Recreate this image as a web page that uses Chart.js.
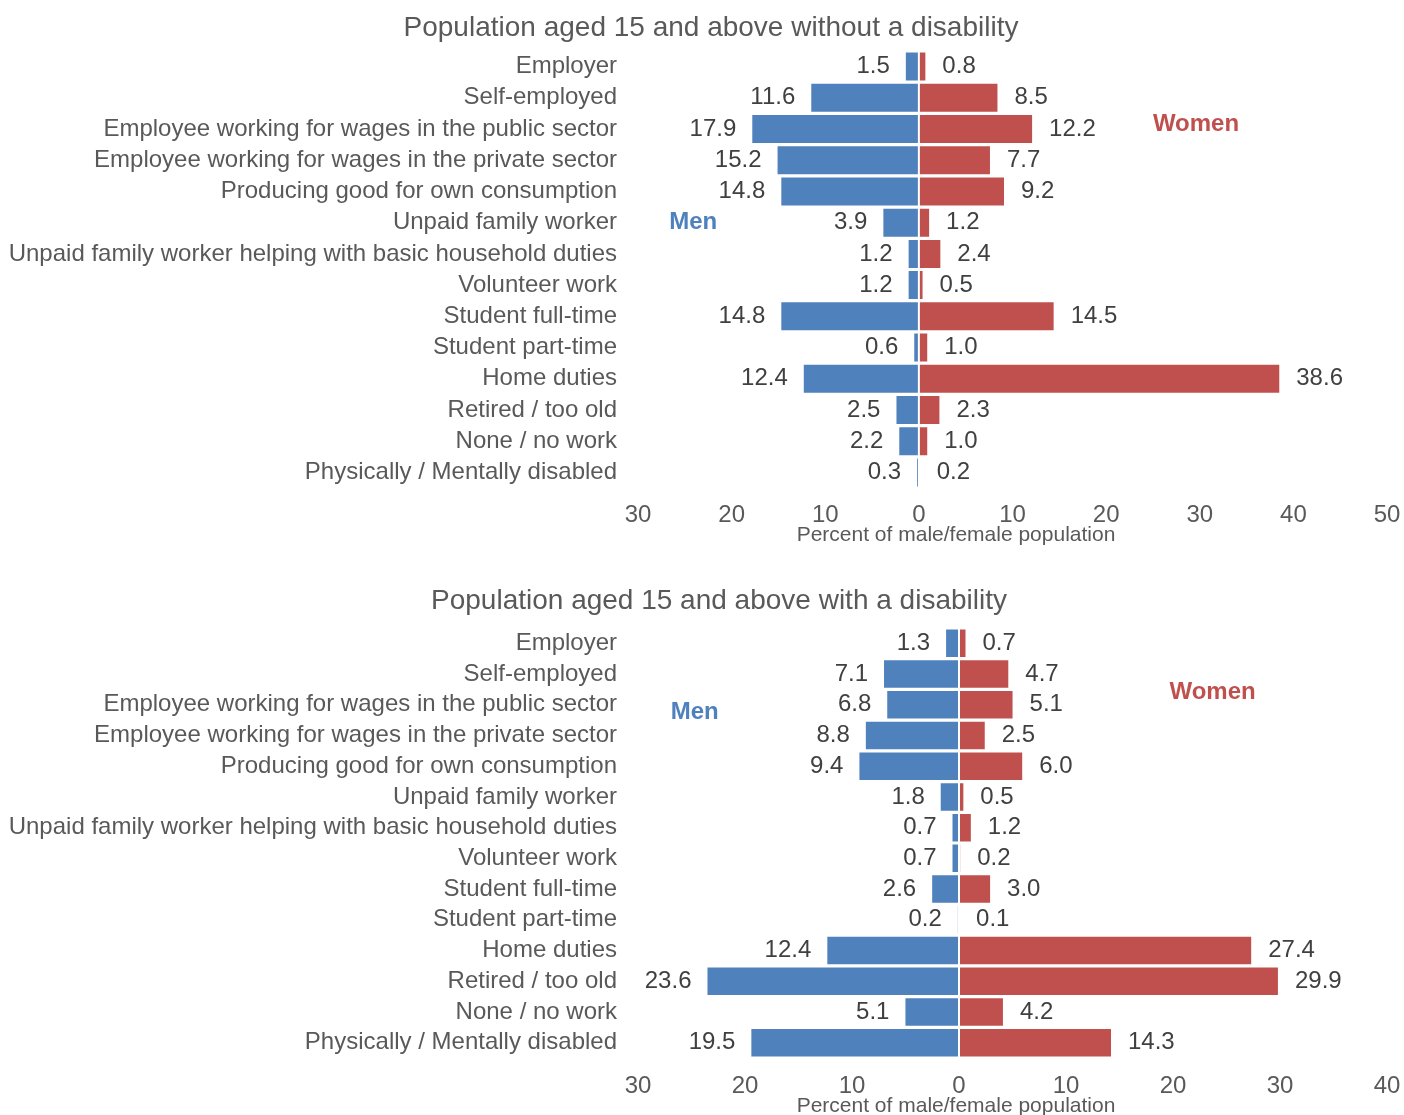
<!DOCTYPE html>
<html>
<head>
<meta charset="utf-8">
<script src="https://cdn.jsdelivr.net/npm/chart.js@4.4.1/dist/chart.umd.min.js"></script>
<style>
  html, body { margin: 0; padding: 0; background: #fff; overflow: hidden; }
  .box { position: absolute; left: 0; width: 1404px; }
</style>
</head>
<body>
<div class="box" style="top:0;height:557px"><canvas id="topChart"></canvas></div>
<div class="box" style="top:557px;height:562px"><canvas id="bottomChart"></canvas></div>
<script>
// categories shared by both panels
const categories = [
  'Employer',
  'Self-employed',
  'Employee working for wages in the public sector',
  'Employee working for wages in the private sector',
  'Producing good for own consumption',
  'Unpaid family worker',
  'Unpaid family worker helping with basic household duties',
  'Volunteer work',
  'Student full-time',
  'Student part-time',
  'Home duties',
  'Retired / too old',
  'None / no work',
  'Physically / Mentally disabled'
];

// without a disability
const menNoDis   = [1.5, 11.6, 17.9, 15.2, 14.8, 3.9, 1.2, 1.2, 14.8, 0.6, 12.4, 2.5, 2.2, 0.3];
const womenNoDis = [0.8, 8.5, 12.2, 7.7, 9.2, 1.2, 2.4, 0.5, 14.5, 1.0, 38.6, 2.3, 1.0, 0.2];

// with a disability
const menDis   = [1.3, 7.1, 6.8, 8.8, 9.4, 1.8, 0.7, 0.7, 2.6, 0.2, 12.4, 23.6, 5.1, 19.5];
const womenDis = [0.7, 4.7, 5.1, 2.5, 6.0, 0.5, 1.2, 0.2, 3.0, 0.1, 27.4, 29.9, 4.2, 14.3];

const titles = [
  'Population aged 15 and above without a disability',
  'Population aged 15 and above with a disability'
];
const axisTitle = 'Percent of male/female population';

const BLUE = '#4F81BD';
const RED = '#C0504D';
const FONT = "'Liberation Sans', Arial, sans-serif";

// titles, value labels next to the bar ends, Men / Women tags
const labelPlugin = {
  id: 'barLabels',
  afterDatasetsDraw(chart, args, opts) {
    const c = chart.ctx;
    c.save();
    c.textBaseline = 'middle';
    c.textAlign = 'center';
    c.fillStyle = '#595959';

    c.font = '28px ' + FONT;
    c.fillText(opts.title, opts.titleX, opts.titleY);

    c.font = '21px ' + FONT;
    c.fillText(axisTitle, opts.axisX, opts.axisY);

    c.font = '24px ' + FONT;
    c.fillStyle = '#404040';
    chart.data.datasets.forEach((ds, i) => {
      const meta = chart.getDatasetMeta(i);
      meta.data.forEach((bar, j) => {
        const v = ds.data[j];
        const txt = Math.abs(v).toFixed(1);
        if (v < 0) {
          c.textAlign = 'right';
          c.fillText(txt, bar.x - 15, bar.y);
        } else {
          c.textAlign = 'left';
          c.fillText(txt, bar.x + 16, bar.y);
        }
      });
    });

    const xs = chart.scales.x, ys = chart.scales.y;
    c.font = 'bold 24px ' + FONT;
    c.textAlign = 'center';
    c.fillStyle = BLUE;
    c.fillText('Men', xs.getPixelForValue(opts.men[0]), ys.getPixelForValue(opts.men[1]));
    c.fillStyle = RED;
    c.fillText('Women', xs.getPixelForValue(opts.women[0]), ys.getPixelForValue(opts.women[1]));
    c.restore();
  }
};

function makeChart(id, men, women, title, xmax, pad, tickPad, lab) {
  return new Chart(document.getElementById(id), {
    type: 'bar',
    data: {
      labels: categories,
      datasets: [
        { label: 'Men', data: men.map(v => -v), backgroundColor: BLUE },
        { label: 'Women', data: women, backgroundColor: RED }
      ]
    },
    options: {
      indexAxis: 'y',
      responsive: true,
      maintainAspectRatio: false,
      animation: false,
      layout: { padding: pad },
      datasets: {
        bar: {
          barPercentage: 0.96,
          categoryPercentage: 1,
          borderWidth: 1,
          borderColor: '#ffffff',
          borderSkipped: false
        }
      },
      scales: {
        x: {
          stacked: true,
          min: -30,
          max: xmax,
          grid: { display: false, drawTicks: false },
          border: { display: false },
          ticks: {
            stepSize: 10,
            padding: tickPad,
            color: '#595959',
            font: { family: FONT, size: 24, lineHeight: 1 },
            callback: v => Math.abs(v)
          },
          afterFit(scale) { scale.paddingLeft = 0; scale.paddingRight = 0; }
        },
        y: {
          stacked: true,
          grid: { display: false, drawTicks: false },
          border: { display: false },
          ticks: {
            padding: 21,
            color: '#595959',
            autoSkip: false,
            font: { family: FONT, size: 24 }
          },
          afterFit(scale) { scale.width = 638 - pad.left; }
        }
      },
      plugins: {
        legend: { display: false },
        tooltip: { enabled: false },
        title: { display: false },
        barLabels: Object.assign({ title: title }, lab)
      }
    },
    plugins: [labelPlugin]
  });
}

makeChart('topChart', menNoDis, womenNoDis, titles[0], 50,
  { left: 0, right: 17, top: 51, bottom: 15 }, 15,
  { titleX: 711, titleY: 28, axisX: 956, axisY: 535, men: [-24.1, 5], women: [29.6, 1.85] });

makeChart('bottomChart', menDis, womenDis, titles[1], 40,
  { left: 0, right: 17, top: 71, bottom: 5 }, 16,
  { titleX: 719, titleY: 44, axisX: 956, axisY: 549, men: [-24.7, 2.25], women: [23.7, 1.6] });
</script>
</body>
</html>
